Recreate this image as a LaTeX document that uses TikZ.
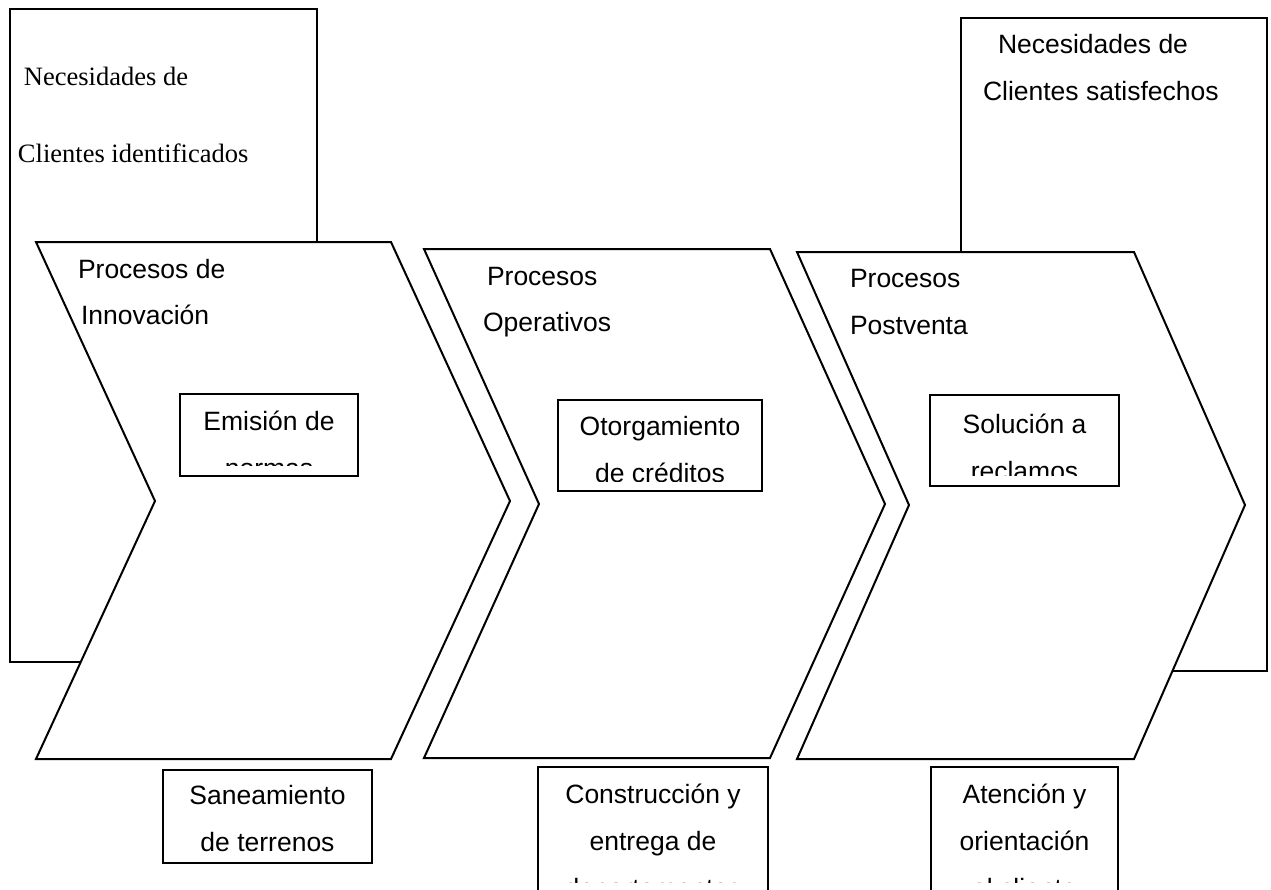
\documentclass[tikz,border=0pt]{standalone}
\usepackage{fontspec}
\setmainfont{Liberation Sans}
\newfontfamily\serifface{Liberation Serif}
\begin{document}
\begin{tikzpicture}[x=0.5pt,y=-0.5pt,line width=1pt,
  frame/.style={draw=black,fill=white,line join=miter},
  txt/.style={anchor=base west,inner sep=0pt,font=\fontsize{13.25}{23.5}\selectfont},
  seriftxt/.style={anchor=base west,inner sep=0pt,font=\serifface\fontsize{13.25}{23.5}\selectfont},
  boxtxt/.style={anchor=base,inner sep=0pt,font=\fontsize{13.25}{23.5}\selectfont}]
\useasboundingbox (0,0) rectangle (1271,890);
\clip (0,0) rectangle (1271,890);

% outer panels: needs identified / needs satisfied
\draw[frame] (10,9) rectangle (317,662);
\draw[frame] (961,18) rectangle (1267,671);
\node[seriftxt] (nl1) at (23,85) {Necesidades de};
\node[seriftxt] (nl2) at (17,162) {Clientes identificados};
\node[txt] (nr1) at (997,53) {Necesidades de};
\node[txt] (nr2) at (982,100) {Clientes satisfechos};

% process chevrons
\draw[frame] (36,242) -- (391,242) -- (510,501) -- (391,759) -- (36,759) -- (155,501) -- cycle;
\draw[frame] (424,249) -- (770,249) -- (885,504) -- (770,758) -- (424,758) -- (539,504) -- cycle;
\draw[frame] (797,252) -- (1134,252) -- (1245,505) -- (1134,759) -- (797,759) -- (909,505) -- cycle;

\node[txt] (p1a) at (77,278) {Procesos de};
\node[txt] (p1b) at (80,324) {Innovación};
\node[txt] (p2a) at (486,285) {Procesos};
\node[txt] (p2b) at (482,331) {Operativos};
\node[txt] (p3a) at (849,287) {Procesos};
\node[txt] (p3b) at (849,334) {Postventa};

% activity boxes (text cut off at the inner margin)
\draw[frame] (180,394) rectangle (358,476);
\begin{scope}
  \clip (180,394) rectangle (358,465);
  \node[boxtxt] (b1) at (269,430) {\begin{tabular}[t]{@{}c@{}}Emisión de\\normas\end{tabular}};
\end{scope}

\draw[frame] (558,400) rectangle (762,491);
\begin{scope}
  \clip (558,400) rectangle (762,481);
  \node[boxtxt] (b2) at (660,435) {\begin{tabular}[t]{@{}c@{}}Otorgamiento\\de créditos\end{tabular}};
\end{scope}

\draw[frame] (930,395) rectangle (1119,486);
\begin{scope}
  \clip (930,395) rectangle (1119,475);
  \node[boxtxt] (b3) at (1024.5,433) {\begin{tabular}[t]{@{}c@{}}Solución a\\reclamos\end{tabular}};
\end{scope}

\draw[frame] (163,770) rectangle (372,863);
\node[boxtxt] (b4) at (267.5,804) {\begin{tabular}[t]{@{}c@{}}Saneamiento\\de terrenos\end{tabular}};

\draw[frame] (538,767) rectangle (768,900);
\begin{scope}
  \clip (538,767) rectangle (768,882);
  \node[boxtxt] (b5) at (653,803) {\begin{tabular}[t]{@{}c@{}}Construcción y\\entrega de\\departamentos\end{tabular}};
\end{scope}

\draw[frame] (931,767) rectangle (1118,900);
\begin{scope}
  \clip (931,767) rectangle (1118,882);
  \node[boxtxt] (b6) at (1024.5,803) {\begin{tabular}[t]{@{}c@{}}Atención y\\orientación\\al cliente\end{tabular}};
\end{scope}
\end{tikzpicture}
\end{document}
